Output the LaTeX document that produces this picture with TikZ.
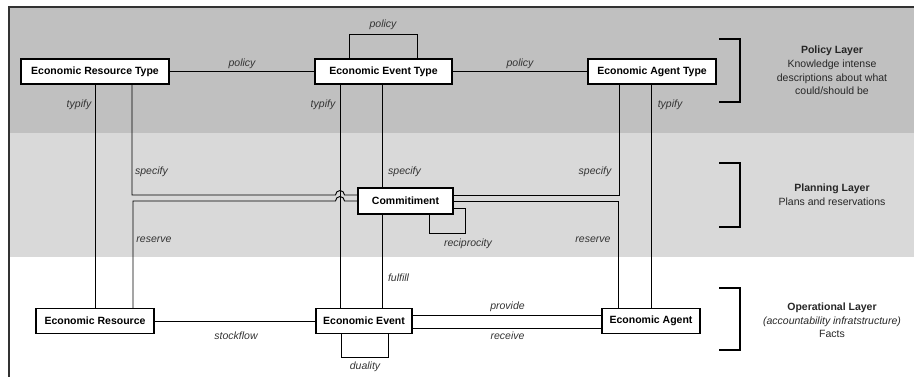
\documentclass[tikz,border=0pt]{standalone}
\usepackage{fontspec}
\setmainfont{Liberation Sans}
\definecolor{policygray}{RGB}{192,192,192}
\definecolor{plangray}{RGB}{217,217,217}
\definecolor{framegray}{RGB}{50,50,50}
\begin{document}
\begin{tikzpicture}[x=1pt,y=-1pt,
  box/.style={draw, fill=white, line width=1.1pt, font=\bfseries\fontsize{10.5}{12}\selectfont, inner sep=0pt, minimum height=25pt},
  lbl/.style={font=\itshape\fontsize{10.5}{12}\selectfont, text=black!80, inner sep=0pt},
  con/.style={line width=0.9pt},
  brk/.style={line width=2pt},
  layer/.style={font=\fontsize{10.5}{13.6}\selectfont, align=center, text=black!85, inner sep=0pt}
]
\useasboundingbox (0,0) rectangle (914,377);
\fill[policygray] (9,7) rectangle (914,133);
\fill[plangray] (9,133) rectangle (914,257);
\draw[line width=1.5pt, framegray] (914,7) -- (9,7) -- (9,377);

% nodes
\node[box, minimum width=148pt] (ert) at (95,71.5) {Economic Resource Type};
\node[box, minimum width=137pt] (eet) at (383.5,71.5) {Economic Event Type};
\node[box, minimum width=128pt] (eat) at (652,71.5) {Economic Agent Type};
\node[box, minimum width=95pt, minimum height=26pt] (com) at (405.5,201) {Commitiment};
\node[box, minimum width=118pt] (er) at (95,321) {Economic Resource};
\node[box, minimum width=96pt] (ee) at (364,321) {Economic Event};
\node[box, minimum width=98pt] (ea) at (651,321) {Economic Agent};

% connectors
\draw[con] (ert) -- (eet);
\draw[con] (eet) -- (eat);
\draw[con] ([xshift=-34.5pt]eet.north) |- (417,34) -- ([xshift=33.5pt]eet.north);
\draw[con] (ert) -- (er);
\draw[con] ([xshift=37pt]ert.south) |- (335.5,195) arc[start angle=180, end angle=0, radius=4.5pt] -- (com.west |- 0,195);
\draw[con] ([xshift=38pt]er.north) |- (335.5,201) arc[start angle=180, end angle=0, radius=4.5pt] -- (com.west |- 0,201);
\draw[con] ([xshift=-43.5pt]eet.south) -- ([xshift=-24pt]ee.north);
\draw[con] ([xshift=-1.5pt]eet.south) -- ([xshift=-23.5pt]com.north);
\draw[con] ([xshift=-23.5pt]com.south) -- ([xshift=18pt]ee.north);
\draw[con] ([xshift=-33pt]eat.south) |- (com.east |- 0,195);
\draw[con] ([xshift=-33pt]ea.north) |- (com.east |- 0,201);
\draw[con] ([xshift=-1pt]eat.south) -- (ea.north);
\draw[con] ([xshift=23.5pt]com.south) |- (465,233) |- ([yshift=-7pt]com.east);
\draw[con] (er) -- (ee);
\draw[con] ([yshift=6pt]ee.east) -- ([yshift=6pt]ea.west);
\draw[con] ([yshift=-7pt]ee.east) -- ([yshift=-7pt]ea.west);
\draw[con] ([xshift=-23pt]ee.south) |- (388,357) -- ([xshift=24pt]ee.south);

% labels
\node[lbl] (l1) at (242,64) {policy};
\node[lbl] (l2) at (520,64) {policy};
\node[lbl] (l3) at (383,25) {policy};
\node[lbl] (l4) at (79,105) {typify};
\node[lbl] (l5) at (323,105) {typify};
\node[lbl] (l6) at (670,105) {typify};
\node[lbl] (l7) at (151.5,172) {specify};
\node[lbl] (l8) at (404.5,172) {specify};
\node[lbl] (l9) at (595,172) {specify};
\node[lbl] (l10) at (154,240) {reserve};
\node[lbl] (l11) at (593,240) {reserve};
\node[lbl] (l12) at (468,244) {reciprocity};
\node[lbl] (l13) at (398.5,278) {fulfill};
\node[lbl] (l14) at (236,336) {stockflow};
\node[lbl] (l15) at (507.5,307) {provide};
\node[lbl] (l16) at (507.5,336) {receive};
\node[lbl] (l17) at (365,367) {duality};

% brackets
\draw[brk] (719,39) -| (740,102) -- (719,102);
\draw[brk] (719,163) -| (740,227) -- (719,227);
\draw[brk] (719,288) -| (740,350) -- (719,350);

% layer texts
\node[layer] (t1) at (832,70.5) {\textbf{Policy Layer}\\Knowledge intense\\descriptions about what\\could/should be};
\node[layer] (t2) at (832,195) {\textbf{Planning Layer}\\Plans and reservations};
\node[layer] (t3) at (832,320.5) {\textbf{Operational Layer}\\\textit{(accountability infratstructure)}\\Facts};
\end{tikzpicture}
\end{document}
